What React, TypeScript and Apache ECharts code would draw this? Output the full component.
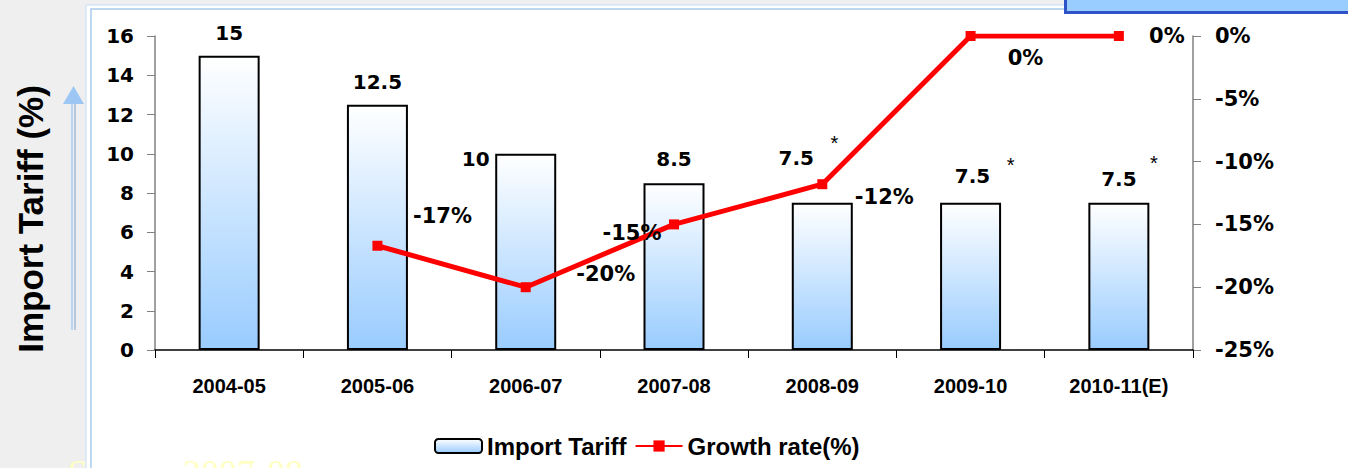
import React, { useEffect, useRef } from "react";
import * as echarts from "echarts";

const categories = ["2004-05", "2005-06", "2006-07", "2007-08", "2008-09", "2009-10", "2010-11(E)"];
const tariff = [15, 12.5, 10, 8.5, 7.5, 7.5, 7.5];
const growth = [null, -16.7, -20, -15, -11.8, 0, 0];
const tariffTicks = { min: 0, max: 16, interval: 2 };
const growthTicks = { min: -25, max: 0, interval: 5 };
const estimated = ["2008-09", "2009-10", "2010-11(E)"];

const barLabelOffsets = [[0, -8], [0, -8], [-50, 20], [0, -9], [-26, -30], [2, -12], [0, -9]];
const lineLabelOffsets = [[0, 0], [65, -30], [80, -13], [-42, 9], [62, 13], [55, 22], [48, 0]];
const starOffsets = [[12, -60], [40, -38], [35, -40]];

const DV = "'DejaVu Sans', Verdana, sans-serif";
const AR = "'Liberation Sans', Arial, sans-serif";

export default function App() {
  const ref = useRef<HTMLDivElement>(null);
  useEffect(() => {
    document.body.style.margin = "0";
    const chart = echarts.init(ref.current!, null, { renderer: "svg" });
    const barGrad = new echarts.graphic.LinearGradient(0, 0, 0, 1, [
      { offset: 0, color: "#ffffff" },
      { offset: 1, color: "#99ccff" },
    ]);
    chart.setOption({
      animation: false,
      backgroundColor: "#efefef",
      graphic: [
        { type: "rect", z: -10, shape: { x: 86, y: 5, width: 1270, height: 470 }, style: { fill: "#ffffff", stroke: "#c4ddf7", lineWidth: 1 } },
        { type: "rect", z: -9, shape: { x: 91, y: 9, width: 1270, height: 470 }, style: { fill: "#ffffff", stroke: "#a9cbee", lineWidth: 1.5 } },
        { type: "rect", z: -8, shape: { x: 1064, y: 0, width: 284, height: 14 }, style: { fill: "#2f52c8" } },
        { type: "rect", z: -7, shape: { x: 1067, y: 0, width: 281, height: 11 }, style: { fill: "#99ccff" } },
        { type: "line", z: 3, shape: { x1: 72, y1: 102, x2: 72, y2: 330 }, style: { stroke: "#a9cdf5", lineWidth: 1.5 } },
        { type: "line", z: 3, shape: { x1: 75, y1: 102, x2: 75, y2: 330 }, style: { stroke: "#7f9fc8", lineWidth: 1 } },
        { type: "polygon", z: 3, shape: { points: [[73.5, 86], [63, 104], [84, 104]] }, style: { fill: "#9cc7f5" } },
        {
          type: "text", z: 3, x: 30, y: 219, rotation: Math.PI / 2,
          style: { text: "Import Tariff (%)", font: `bold 35px ${AR}`, fill: "#000", align: "center", verticalAlign: "middle" },
        },
        { type: "text", z: 3, x: 68, y: 455, style: { text: "S", font: "36px 'Liberation Serif', serif", fill: "#ffffc4", verticalAlign: "top" } },
        { type: "text", z: 3, x: 183, y: 455, style: { text: "2007-08", font: "36px 'Liberation Serif', serif", fill: "#ffffc4", verticalAlign: "top" } },
      ],
      grid: { left: 155, right: 155, top: 36, bottom: 118 },
      legend: {
        left: 429, top: 429, itemWidth: 47, itemHeight: 14, itemGap: 8,
        data: ["Import Tariff", "Growth rate(%)"],
        textStyle: { fontFamily: AR, fontWeight: "bold", fontSize: 24, color: "#000" },
      },
      xAxis: {
        type: "category", data: categories, boundaryGap: true,
        axisLine: { lineStyle: { color: "#000", width: 1.5 } },
        axisTick: { show: true, length: 8, lineStyle: { color: "#000" } },
        axisLabel: { margin: 26, color: "#000", fontFamily: AR, fontWeight: "bold", fontSize: 20 },
      },
      yAxis: [
        {
          type: "value", ...tariffTicks, position: "left",
          axisLine: { show: true, lineStyle: { color: "#808080", width: 1.5 } },
          axisTick: { show: true, length: 8, lineStyle: { color: "#808080" } },
          splitLine: { show: false },
          axisLabel: { margin: 21, color: "#000", fontFamily: DV, fontWeight: "bold", fontSize: 20 },
        },
        {
          type: "value", ...growthTicks, position: "right",
          axisLine: { show: true, lineStyle: { color: "#808080", width: 1.5 } },
          axisTick: { show: true, length: 8, lineStyle: { color: "#808080" } },
          splitLine: { show: false },
          axisLabel: { margin: 22, color: "#000", fontFamily: DV, fontWeight: "bold", fontSize: 21, formatter: "{value}%" },
        },
      ],
      series: [
        {
          name: "Import Tariff", type: "bar", barWidth: 61,
          itemStyle: { color: barGrad, borderColor: "#000", borderWidth: 2 },
          data: tariff.map((v, i) => ({ value: v, label: { offset: barLabelOffsets[i] } })),
          label: { show: true, position: "top", color: "#000", fontFamily: DV, fontWeight: "bold", fontSize: 20 },
          markPoint: {
            symbol: "circle", symbolSize: 0,
            data: estimated.map((c, i) => ({
              coord: [c, tariff[categories.indexOf(c)]],
              label: { show: true, formatter: "*", position: "inside", offset: starOffsets[i], color: "#000", fontFamily: AR, fontSize: 20 },
            })),
          },
        },
        {
          name: "Growth rate(%)", type: "line", yAxisIndex: 1,
          symbol: "rect", symbolSize: 10, connectNulls: false,
          lineStyle: { color: "#ff0000", width: 5 },
          itemStyle: { color: "#ff0000" },
          data: growth.map((v, i) => ({ value: v, label: { offset: lineLabelOffsets[i] } })),
          label: {
            show: true, position: "inside", color: "#000", fontFamily: DV, fontWeight: "bold", fontSize: 21,
            formatter: (p: any) => `${Math.round(p.value) === 0 ? 0 : Math.round(p.value)}%`,
          },
        },
      ],
    });
    return () => chart.dispose();
  }, []);
  return <div ref={ref} style={{ position: "absolute", left: 0, top: 0, width: 1348, height: 468 }} />;
}
